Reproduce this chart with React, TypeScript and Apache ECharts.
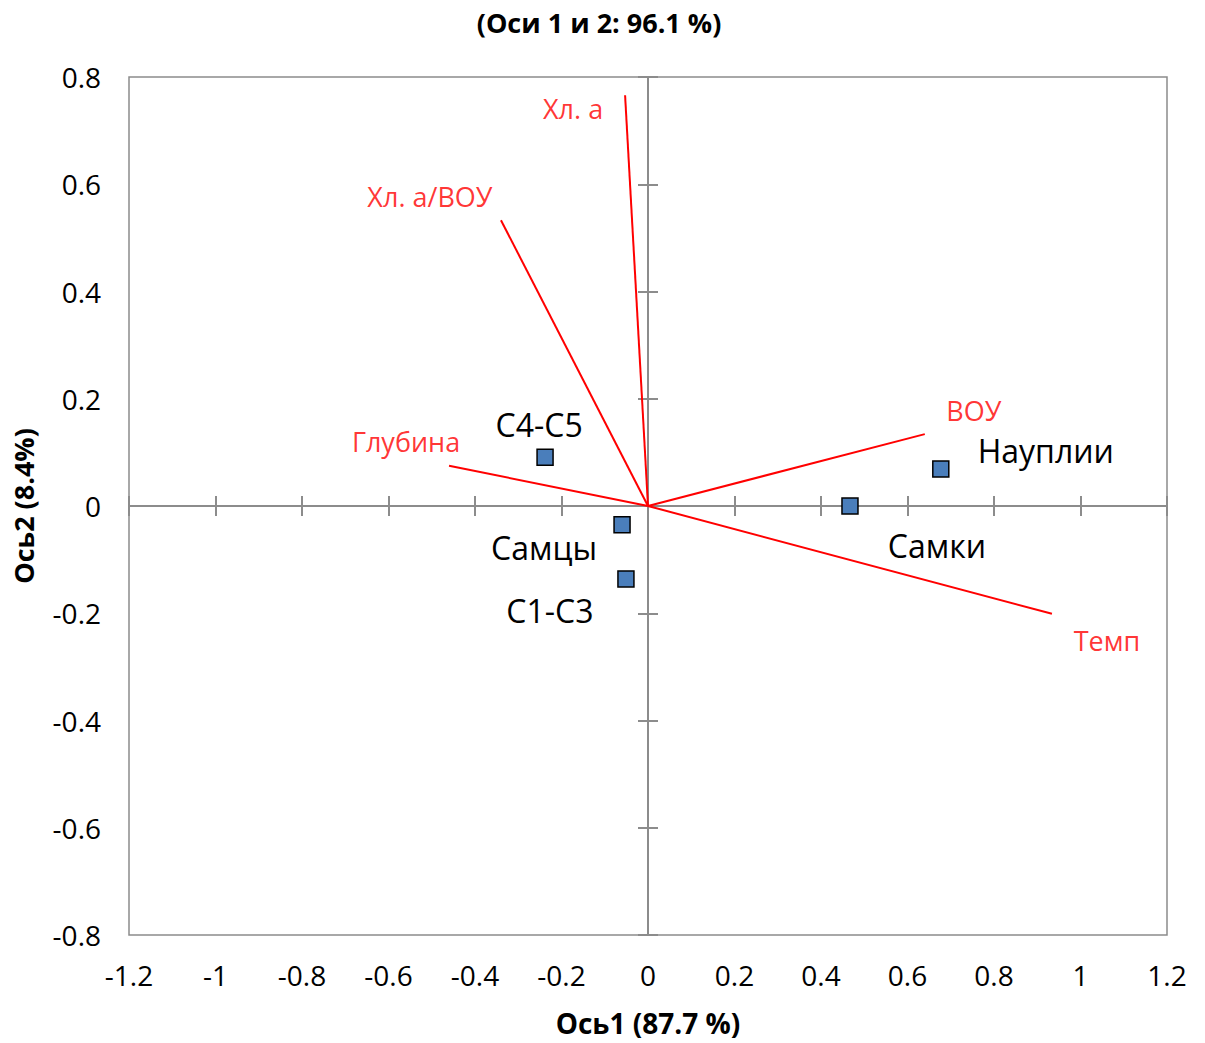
import React, { useEffect, useRef } from "react";
import * as echarts from "echarts";

const xTicks = [-1.2, 1.2, 0.2];
const yTicks = [-0.8, 0.8, 0.2];

const pointNames = ["C4-C5", "Самцы", "C1-C3", "Самки", "Науплии"];
const pointX = [-0.238, -0.06, -0.051, 0.467, 0.677];
const pointY = [0.091, -0.035, -0.136, 0.0, 0.069];

const vectorNames = ["Хл. а", "Хл. а/ВОУ", "Глубина", "ВОУ", "Темп"];
const vectorX = [-0.053, -0.34, -0.46, 0.64, 0.934];
const vectorY = [0.766, 0.533, 0.075, 0.134, -0.201];

const titleText = "(Оси 1 и 2: 96.1 %)";
const xName = "Ось1 (87.7 %)";
const yName = "Ось2 (8.4%)";

const pointLabelOffsets = [[-6, -33], [-78, 23], [-76, 32], [87, 39], [105, -18]];
const vectorLabelOffsets = [[-52, 13], [-71, -24], [-43, -24], [49, -24], [55, 27]];

const FONT = "'Open Sans', 'Noto Sans', sans-serif";
const GRAY = "#8c8c8c";

export default function App() {
  const ref = useRef<HTMLDivElement>(null);
  useEffect(() => {
    const chart = echarts.init(ref.current!, null, { renderer: "svg" });
    const baseX = { type: "value", min: xTicks[0], max: xTicks[1], interval: xTicks[2] };
    const baseY = { type: "value", min: yTicks[0], max: yTicks[1], interval: yTicks[2] };
    const tickAxis = (base: any, inside: boolean, showLine: boolean) => ({
      ...base,
      axisLine: { show: showLine, onZero: true, lineStyle: { color: GRAY, width: 2 } },
      axisTick: { show: true, inside, length: 10, lineStyle: { color: GRAY, width: 2 } },
      axisLabel: { show: false },
      splitLine: { show: false },
    });
    const vectorSeries = vectorNames.map((n, i) => ({
      type: "line",
      name: n,
      data: [[0, 0], [vectorX[i], vectorY[i]]],
      showSymbol: false,
      symbol: "none",
      lineStyle: { color: "#ff0000", width: 2 },
      z: 3,
    }));
    chart.setOption({
      animation: false,
      backgroundColor: "#ffffff",
      textStyle: { fontFamily: FONT },
      title: {
        text: titleText,
        left: 594,
        top: 4,
        textAlign: "center",
        textStyle: { fontFamily: FONT, fontSize: 27, fontWeight: "bold", color: "#000" },
      },
      grid: {
        left: 129,
        right: 38,
        top: 77,
        bottom: 108,
        show: true,
        borderColor: GRAY,
        borderWidth: 1.5,
        backgroundColor: "transparent",
      },
      xAxis: [
        {
          ...baseX,
          position: "bottom",
          axisLine: { show: false, onZero: false },
          axisTick: { show: false },
          splitLine: { show: false },
          axisLabel: { fontSize: 28, color: "#000", margin: 26, fontFamily: FONT },
          name: xName,
          nameLocation: "middle",
          nameGap: 74,
          nameTextStyle: { fontSize: 28, fontWeight: "bold", color: "#000", fontFamily: FONT },
        },
        tickAxis(baseX, true, true),
        tickAxis(baseX, false, false),
      ],
      yAxis: [
        {
          ...baseY,
          position: "left",
          axisLine: { show: false, onZero: false },
          axisTick: { show: false },
          splitLine: { show: false },
          axisLabel: { fontSize: 28, color: "#000", margin: 28, fontFamily: FONT },
          name: yName,
          nameLocation: "middle",
          nameGap: 92,
          nameTextStyle: { fontSize: 27, fontWeight: "bold", color: "#000", fontFamily: FONT },
        },
        tickAxis(baseY, true, true),
        tickAxis(baseY, false, false),
      ],
      series: [
        ...vectorSeries,
        {
          type: "scatter",
          name: "vectorLabels",
          data: vectorNames.map((n, i) => ({
            value: [vectorX[i], vectorY[i]],
            name: n,
            label: { offset: vectorLabelOffsets[i] },
          })),
          symbolSize: 0,
          label: {
            show: true,
            position: "inside",
            formatter: "{b}",
            color: "#ff0000",
            fontSize: 27,
            fontFamily: FONT,
          },
          z: 4,
        },
        {
          type: "scatter",
          name: "points",
          data: pointNames.map((n, i) => ({
            value: [pointX[i], pointY[i]],
            name: n,
            label: { offset: pointLabelOffsets[i] },
          })),
          symbol: "rect",
          symbolSize: 16,
          itemStyle: { color: "#4a7ebb", borderColor: "#000", borderWidth: 1.5, opacity: 1 },
          label: {
            show: true,
            position: "inside",
            formatter: "{b}",
            color: "#000",
            fontSize: 32,
            fontFamily: FONT,
          },
          z: 5,
        },
      ],
    });
    return () => chart.dispose();
  }, []);
  return <div ref={ref} style={{ width: 1205, height: 1043, position: "absolute", left: 0, top: 0 }} />;
}
